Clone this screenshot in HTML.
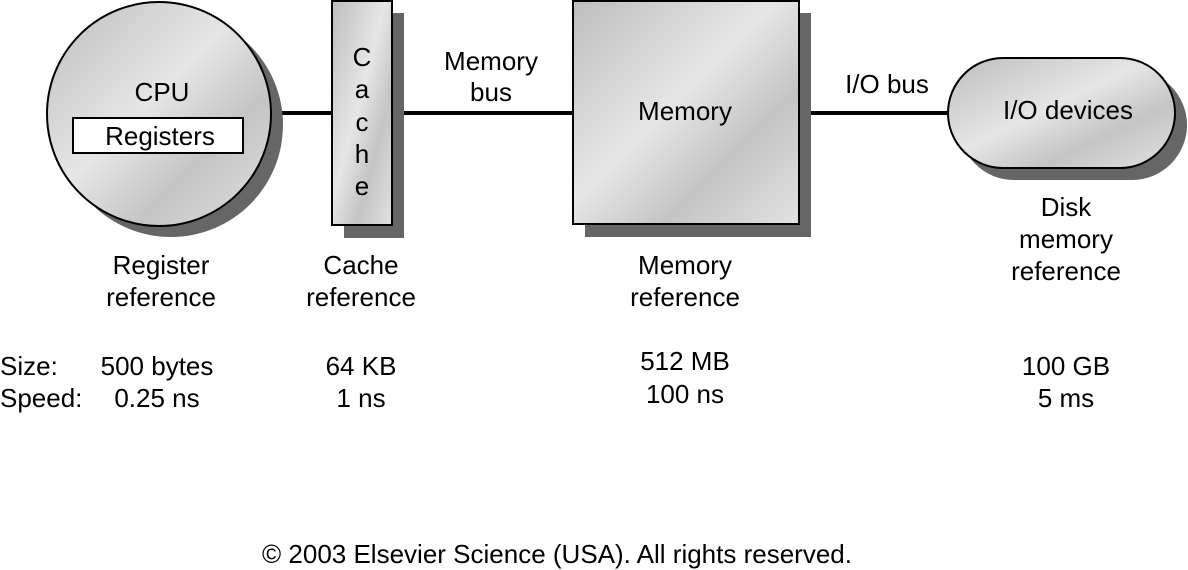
<!DOCTYPE html>
<html><head><meta charset="utf-8"><style>html,body{margin:0;padding:0;background:#fff}svg{display:block}</style></head>
<body>
<svg width="1188" height="570" viewBox="0 0 1188 570" xmlns="http://www.w3.org/2000/svg" font-family="Liberation Sans, Arial, sans-serif" font-size="26" fill="#000">
<defs>
<linearGradient id="g" x1="0" y1="0" x2="1" y2="1">
<stop offset="0" stop-color="#bdbdbd"/><stop offset="0.45" stop-color="#e6e6e6"/><stop offset="0.7" stop-color="#c4c4c4"/><stop offset="1" stop-color="#e2e2e2"/>
</linearGradient>
</defs>
<line x1="260" y1="113" x2="950" y2="113" stroke="#000" stroke-width="4"/>
<circle cx="171" cy="125" r="112" fill="#666"/>
<circle cx="159" cy="114" r="112" fill="url(#g)" stroke="#000" stroke-width="2"/>
<rect x="73" y="118" width="170" height="35" fill="#fff" stroke="#000" stroke-width="2"/>
<text x="162" y="101" text-anchor="middle">CPU</text>
<text x="160" y="145" text-anchor="middle">Registers</text>
<rect x="344" y="13" width="60" height="225" fill="#666"/>
<rect x="332" y="1" width="60" height="224" fill="url(#g)" stroke="#000" stroke-width="2"/>
<g text-anchor="middle"><text x="362" y="66">C</text><text x="362" y="98">a</text><text x="362" y="131">c</text><text x="362" y="163">h</text><text x="362" y="195">e</text></g>
<rect x="585" y="13" width="226" height="224" fill="#666"/>
<rect x="573" y="1" width="226" height="223" fill="url(#g)" stroke="#000" stroke-width="2"/>
<text x="685" y="120" text-anchor="middle">Memory</text>
<rect x="959" y="70" width="228" height="110" rx="55" fill="#666"/>
<rect x="948" y="58" width="227" height="110" rx="55" fill="url(#g)" stroke="#000" stroke-width="2"/>
<text x="1068" y="119" text-anchor="middle">I/O devices</text>
<g text-anchor="middle">
<text x="491" y="70">Memory</text><text x="491" y="101">bus</text>
<text x="887" y="93">I/O bus</text>
<text x="161" y="274">Register</text><text x="161" y="306">reference</text>
<text x="361" y="274">Cache</text><text x="361" y="306">reference</text>
<text x="685" y="274">Memory</text><text x="685" y="306">reference</text>
<text x="1066" y="216">Disk</text><text x="1066" y="248">memory</text><text x="1066" y="280">reference</text>
<text x="157" y="375">500 bytes</text><text x="157" y="407">0.25 ns</text>
<text x="361" y="375">64 KB</text><text x="361" y="407">1 ns</text>
<text x="685" y="370">512 MB</text><text x="685" y="403">100 ns</text>
<text x="1066" y="375">100 GB</text><text x="1066" y="407">5 ms</text>
<text x="557" y="563">© 2003 Elsevier Science (USA). All rights reserved.</text>
</g>
<text x="0" y="375">Size:</text><text x="0" y="407">Speed:</text>
</svg>
</body></html>
